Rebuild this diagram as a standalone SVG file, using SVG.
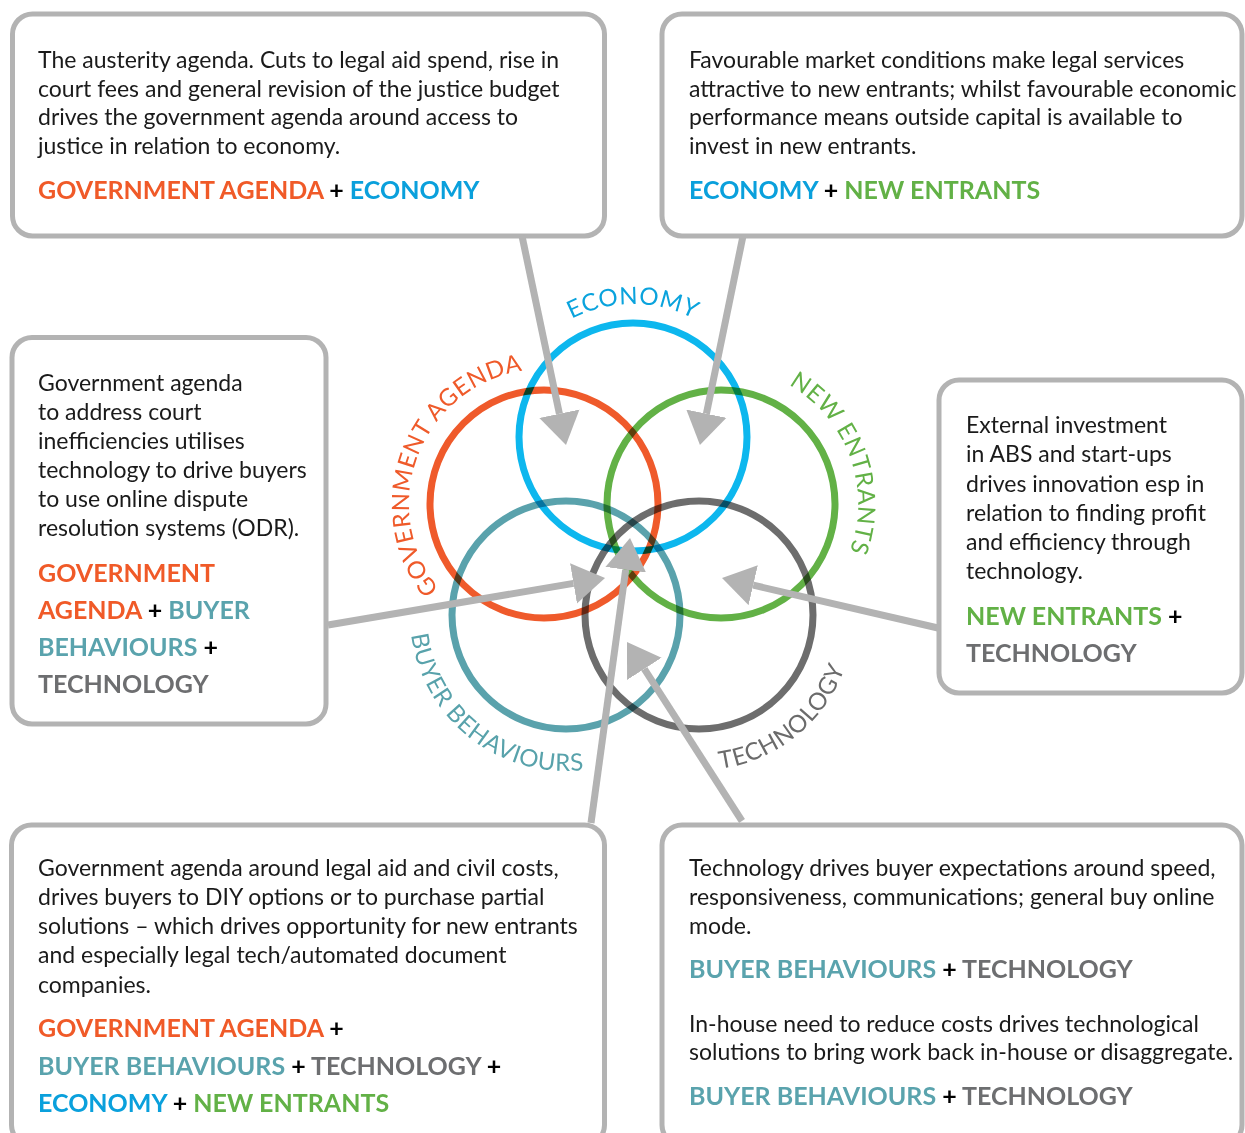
<svg xmlns="http://www.w3.org/2000/svg" width="1245" height="1133" viewBox="0 0 1245 1133">
<style>
.box{fill:#fff;stroke:#b3b3b3;stroke-width:5}
.ring{fill:none;stroke-width:7;mix-blend-mode:multiply}
.body{font-family:Lato,"Noto Sans",sans-serif;font-size:23px;fill:#1a1a1a}
.lab{font-family:Lato,"Noto Sans",sans-serif;font-size:25px;font-weight:700;fill:#000}
.arc{font-family:Lato,"Noto Sans",sans-serif;font-size:24px;letter-spacing:0.6px}
.conn{fill:none;stroke:#b3b3b3;stroke-width:7;marker-end:url(#head)}
.ga{fill:#f05a28}.ec{fill:#0aa0dc}.ne{fill:#62b146}.bb{fill:#5aa3ad}.te{fill:#6d6e70}
</style>
<defs>
<marker id="head" markerUnits="userSpaceOnUse" markerWidth="34" markerHeight="42" viewBox="0 -21 34 42" refX="0" refY="0" orient="auto">
<path d="M0,-20.5 L32,0 L0,20.5 Z" fill="#b3b3b3"/>
</marker>
<path id="p-eco" d="M500,437 A133,133 0 0 1 766,437"/>
<path id="p-ga" d="M484.8,625.3 A135,135 0 0 1 581.2,374.2"/>
<path id="p-ne" d="M685.5,371.7 A137,137 0 0 1 778.9,628.2"/>
<path id="p-bb" d="M435.2,530 A156,156 0 0 0 680.1,721.4"/>
<path id="p-te" d="M587.5,722.7 A155,155 0 0 0 827.5,528.3"/>
</defs>

<g id="box-ga-ec">
<rect class="box" x="12.5" y="14" width="592" height="222" rx="20"/>
<text class="body"><tspan x="38" y="68">The austerity agenda. Cuts to legal aid spend, rise in</tspan><tspan x="38" y="97">court fees and general revision of the justice budget</tspan><tspan x="38" y="125">drives the government agenda around access to</tspan><tspan x="38" y="154">justice in relation to economy.</tspan></text>
<text class="lab" x="38" y="199"><tspan class="ga">GOVERNMENT AGENDA</tspan> + <tspan class="ec">ECONOMY</tspan></text>
</g>

<g id="box-ec-ne">
<rect class="box" x="662" y="14" width="580" height="222" rx="20"/>
<text class="body"><tspan x="689" y="68">Favourable market conditions make legal services</tspan><tspan x="689" y="97">attractive to new entrants; whilst favourable economic</tspan><tspan x="689" y="125">performance means outside capital is available to</tspan><tspan x="689" y="154">invest in new entrants.</tspan></text>
<text class="lab" x="689" y="199"><tspan class="ec">ECONOMY</tspan> + <tspan class="ne">NEW ENTRANTS</tspan></text>
</g>

<g id="box-ga-bb-te">
<rect class="box" x="12" y="337.5" width="314" height="386.5" rx="20"/>
<text class="body"><tspan x="38" y="391">Government agenda</tspan><tspan x="38" y="420">to address court</tspan><tspan x="38" y="449">inefficiencies utilises</tspan><tspan x="38" y="478">technology to drive buyers</tspan><tspan x="38" y="507">to use online dispute</tspan><tspan x="38" y="536">resolution systems (ODR).</tspan></text>
<text class="lab"><tspan x="38" y="582" class="ga">GOVERNMENT</tspan><tspan x="38" y="619"><tspan class="ga">AGENDA</tspan> + <tspan class="bb">BUYER</tspan></tspan><tspan x="38" y="656"><tspan class="bb">BEHAVIOURS</tspan> +</tspan><tspan x="38" y="693" class="te">TECHNOLOGY</tspan></text>
</g>

<g id="box-ne-te">
<rect class="box" x="939" y="380" width="303" height="313" rx="20"/>
<text class="body"><tspan x="966" y="433">External investment</tspan><tspan x="966" y="462">in ABS and start-ups</tspan><tspan x="966" y="492">drives innovation esp in</tspan><tspan x="966" y="521">relation to finding profit</tspan><tspan x="966" y="550">and efficiency through</tspan><tspan x="966" y="579">technology.</tspan></text>
<text class="lab"><tspan x="966" y="625"><tspan class="ne">NEW ENTRANTS</tspan> +</tspan><tspan x="966" y="662" class="te">TECHNOLOGY</tspan></text>
</g>

<g id="box-all">
<rect class="box" x="11.5" y="825" width="593" height="320" rx="20"/>
<text class="body"><tspan x="38" y="876">Government agenda around legal aid and civil costs,</tspan><tspan x="38" y="905">drives buyers to DIY options or to purchase partial</tspan><tspan x="38" y="934">solutions – which drives opportunity for new entrants</tspan><tspan x="38" y="963">and especially legal tech/automated document</tspan><tspan x="38" y="993">companies.</tspan></text>
<text class="lab"><tspan x="38" y="1037"><tspan class="ga">GOVERNMENT AGENDA</tspan> +</tspan><tspan x="38" y="1075"><tspan class="bb">BUYER BEHAVIOURS</tspan> + <tspan class="te">TECHNOLOGY</tspan> +</tspan><tspan x="38" y="1112"><tspan class="ec">ECONOMY</tspan> + <tspan class="ne">NEW ENTRANTS</tspan></tspan></text>
</g>

<g id="box-bb-te">
<rect class="box" x="662" y="825" width="580" height="320" rx="20"/>
<text class="body"><tspan x="689" y="876">Technology drives buyer expectations around speed,</tspan><tspan x="689" y="905">responsiveness, communications; general buy online</tspan><tspan x="689" y="934">mode.</tspan></text>
<text class="lab" x="689" y="978"><tspan class="bb">BUYER BEHAVIOURS</tspan> + <tspan class="te">TECHNOLOGY</tspan></text>
<text class="body"><tspan x="689" y="1032">In-house need to reduce costs drives technological</tspan><tspan x="689" y="1060">solutions to bring work back in-house or disaggregate.</tspan></text>
<text class="lab" x="689" y="1105"><tspan class="bb">BUYER BEHAVIOURS</tspan> + <tspan class="te">TECHNOLOGY</tspan></text>
</g>

<g id="venn">
<circle id="c-economy" class="ring" cx="633" cy="437" r="114" stroke="#0db7ee"/>
<circle id="c-government" class="ring" cx="544" cy="504" r="114" stroke="#ef5a2b"/>
<circle id="c-newentrants" class="ring" cx="721" cy="504" r="114" stroke="#62b146"/>
<circle id="c-buyer" class="ring" cx="566" cy="615" r="114" stroke="#5aa2ac"/>
<circle id="c-technology" class="ring" cx="699" cy="615" r="114" stroke="#6d6d6d"/>
<text class="arc" fill="#0aa3dd"><textPath href="#p-eco" startOffset="50%" text-anchor="middle">ECONOMY</textPath></text>
<text class="arc" fill="#ef5a2a"><textPath href="#p-ga" startOffset="50%" text-anchor="middle">GOVERNMENT AGENDA</textPath></text>
<text class="arc" fill="#62b146"><textPath href="#p-ne" startOffset="50%" text-anchor="middle">NEW ENTRANTS</textPath></text>
<text class="arc" fill="#58a2ab"><textPath href="#p-bb" startOffset="50%" text-anchor="middle">BUYER BEHAVIOURS</textPath></text>
<text class="arc" fill="#6b6b6b"><textPath href="#p-te" startOffset="50%" text-anchor="middle">TECHNOLOGY</textPath></text>
</g>

<g id="connectors">
<path class="conn" d="M522,236 L559.4,413.7"/>
<path class="conn" d="M743,236 L706.4,413.7"/>
<path class="conn" d="M328,625 L573.5,583.4"/>
<path class="conn" d="M591,823 L625.7,569.7"/>
<path class="conn" d="M938,628 L753.2,585.2"/>
<path class="conn" d="M742,821 L644.3,668.9"/>
</g>
</svg>
